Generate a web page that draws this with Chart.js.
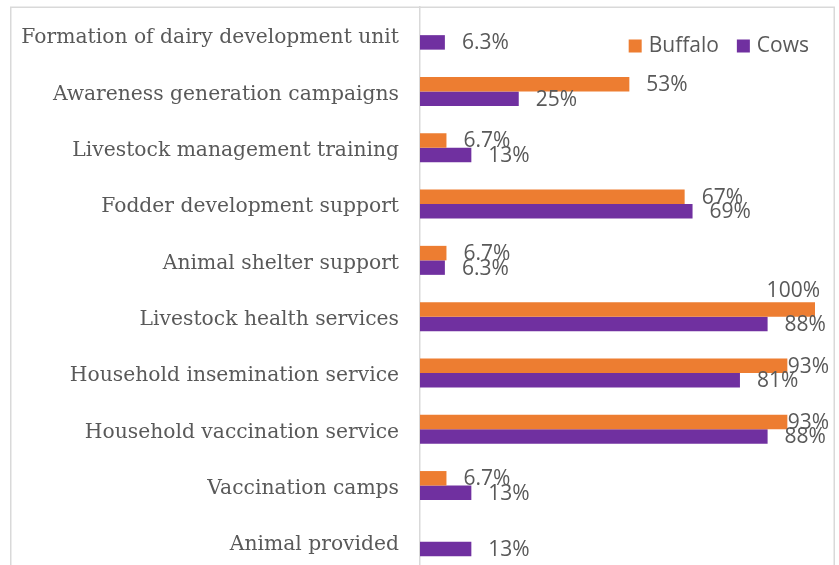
<!DOCTYPE html>
<html>
<head>
<meta charset="utf-8">
<script src="https://cdn.jsdelivr.net/npm/chart.js@4.4.1/dist/chart.umd.min.js"></script>
<style>
  html, body { margin: 0; padding: 0; background: #fff; overflow: hidden; }
  #wrap { width: 839px; height: 565px; overflow: hidden; }
</style>
</head>
<body>
<div id="wrap"><canvas id="chart" width="839" height="580"></canvas></div>
<script>
// support types, top to bottom
const categories = [
  'Formation of dairy development unit',
  'Awareness generation campaigns',
  'Livestock management training',
  'Fodder development support',
  'Animal shelter support',
  'Livestock health services',
  'Household insemination service',
  'Household vaccination service',
  'Vaccination camps',
  'Animal provided'
];
// share of households (%), null = not reported
const buffalo = [null, 53, 6.7, 67, 6.7, 100, 93, 93, 6.7, null];
const cows = [6.3, 25, 13, 69, 6.3, 88, 81, 88, 13, 13];

const ORANGE = '#ED7D31';
const PURPLE = '#7030A0';
const TEXT = '#595959';
const LINE = '#d9d9d9';
const LABEL_FONT = '21px "Open Sans"';

// outer frame of the chart
const framePlugin = {
  id: 'frame',
  beforeDraw(chart) {
    const ctx = chart.ctx;
    ctx.save();
    ctx.strokeStyle = LINE;
    ctx.lineWidth = 1.5;
    ctx.strokeRect(10.75, 7.25, 823.5, 700);
    ctx.restore();
  }
};

// value labels at the end of each bar
const valueLabels = {
  id: 'valueLabels',
  afterDatasetsDraw(chart) {
    const ctx = chart.ctx;
    const limit = chart.chartArea.right + 14;
    ctx.save();
    ctx.font = LABEL_FONT;
    ctx.fillStyle = TEXT;
    ctx.textBaseline = 'middle';
    ctx.textAlign = 'left';
    chart.data.datasets.forEach((ds, i) => {
      chart.getDatasetMeta(i).data.forEach((bar, j) => {
        const v = ds.data[j];
        if (v === null) return;
        const txt = v + '%';
        const w = ctx.measureText(txt).width;
        let x = bar.x + 17;
        let y = bar.y + 1;
        if (x + w > limit) {
          x = limit - w;
          if (x < bar.x - 3) {
            // no room beside the bar: put it above
            x = bar.x + 5 - w;
            y = bar.y - 18;
          }
        }
        ctx.fillText(txt, x, y);
      });
    });
    ctx.restore();
  }
};

// legend in the top right corner of the plot
const cornerLegend = {
  id: 'cornerLegend',
  afterDraw(chart) {
    const ctx = chart.ctx;
    ctx.save();
    ctx.font = LABEL_FONT;
    ctx.textBaseline = 'middle';
    ctx.textAlign = 'left';
    const items = chart.data.datasets.map(d => ({ text: d.label, color: d.backgroundColor }));
    const box = 13, gap = 7, between = 18;
    let total = 0;
    items.forEach((it, k) => {
      total += box + gap + ctx.measureText(it.text).width + (k < items.length - 1 ? between : 0);
    });
    let x = 809 - total;
    const y = 46;
    items.forEach(it => {
      ctx.fillStyle = it.color;
      ctx.fillRect(x, y - box / 2, box, box);
      x += box + gap;
      ctx.fillStyle = TEXT;
      ctx.fillText(it.text, x, y);
      x += ctx.measureText(it.text).width + between;
    });
    ctx.restore();
  }
};

new Chart(document.getElementById('chart'), {
  type: 'bar',
  data: {
    labels: categories,
    datasets: [
      { label: 'Buffalo', data: buffalo, backgroundColor: ORANGE },
      { label: 'Cows', data: cows, backgroundColor: PURPLE }
    ]
  },
  options: {
    indexAxis: 'y',
    responsive: false,
    animation: false,
    layout: { padding: { top: 7, right: 24, bottom: 10, left: 0 } },
    datasets: { bar: { barPercentage: 1.0, categoryPercentage: 0.515 } },
    plugins: {
      legend: { display: false },
      tooltip: { enabled: false },
      title: { display: false }
    },
    scales: {
      x: { display: false, min: 0, max: 100 },
      y: {
        grid: { display: false },
        border: { display: true, color: LINE, width: 1.5 },
        ticks: {
          padding: 13,
          labelOffset: 3,
          color: TEXT,
          font: { family: 'DejaVu Serif', size: 20.3 }
        },
        afterFit(scale) {
          scale.width = 420;
          scale.paddingTop = 0;
          scale.paddingBottom = 0;
        }
      }
    }
  },
  plugins: [framePlugin, valueLabels, cornerLegend]
});
</script>
</body>
</html>
